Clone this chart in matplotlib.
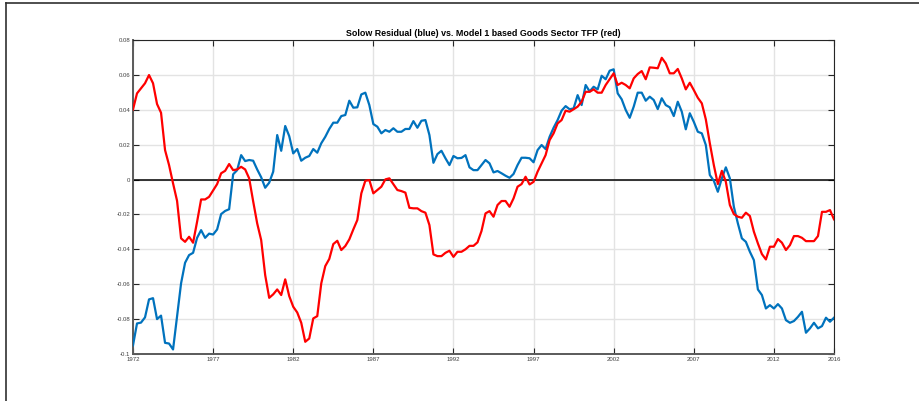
import numpy as np
import matplotlib
matplotlib.use("Agg")
import matplotlib.pyplot as plt
from matplotlib.lines import Line2D

# quarterly, 1972Q1 .. 2015Q4
start_year = 1972
solow_residual = [
    -0.0950, -0.0825, -0.0820, -0.0790, -0.0687, -0.0680, -0.0800, -0.0780,
    -0.0936, -0.0940, -0.0974, -0.0787, -0.0595, -0.0477, -0.0433, -0.0420,
    -0.0334, -0.0290, -0.0334, -0.0310, -0.0315, -0.0286, -0.0198, -0.0180,
    -0.0170, 0.0030, 0.0054, 0.0140, 0.0106, 0.0112, 0.0108, 0.0058,
    0.0013, -0.0047, -0.0018, 0.0045, 0.0255, 0.0165, 0.0307, 0.0249,
    0.0150, 0.0175, 0.0108, 0.0125, 0.0135, 0.0175, 0.0154, 0.0208,
    0.0245, 0.0290, 0.0326, 0.0326, 0.0364, 0.0370, 0.0452, 0.0412,
    0.0414, 0.0488, 0.0498, 0.0427, 0.0318, 0.0303, 0.0265, 0.0284,
    0.0274, 0.0294, 0.0274, 0.0274, 0.0290, 0.0290, 0.0335, 0.0297,
    0.0337, 0.0341, 0.0255, 0.0096, 0.0146, 0.0165, 0.0122, 0.0083,
    0.0135, 0.0122, 0.0124, 0.0140, 0.0070, 0.0054, 0.0054, 0.0083,
    0.0112, 0.0093, 0.0041, 0.0049, 0.0036, 0.0022, 0.0010, 0.0032,
    0.0083, 0.0125, 0.0125, 0.0122, 0.0099, 0.0169, 0.0198, 0.0175,
    0.0245, 0.0297, 0.0341, 0.0395, 0.0421, 0.0403, 0.0408, 0.0484,
    0.0427, 0.0542, 0.0505, 0.0532, 0.0517, 0.0595, 0.0575, 0.0624,
    0.0632, 0.0494, 0.0460, 0.0399, 0.0354, 0.0418, 0.0498, 0.0498,
    0.0452, 0.0475, 0.0456, 0.0404, 0.0466, 0.0427, 0.0414, 0.0364,
    0.0446, 0.0389, 0.0288, 0.0380, 0.0331, 0.0274, 0.0265, 0.0198,
    0.0026, -0.0007, -0.0070, 0.0007, 0.0070, 0.0007, -0.0156, -0.0251,
    -0.0337, -0.0357, -0.0414, -0.0462, -0.0630, -0.0662, -0.0739, -0.0720,
    -0.0739, -0.0714, -0.0739, -0.0806, -0.0821, -0.0811, -0.0787, -0.0758,
    -0.0878, -0.0853, -0.0821, -0.0853, -0.0840, -0.0792, -0.0815, -0.0792,
]
goods_tfp = [
    0.0402, 0.0494, 0.0523, 0.0552, 0.0599, 0.0552, 0.0433, 0.0383,
    0.0169, 0.0083, -0.0022, -0.0122, -0.0337, -0.0357, -0.0328, -0.0362,
    -0.0242, -0.0114, -0.0114, -0.0099, -0.0063, -0.0026, 0.0036, 0.0050,
    0.0089, 0.0054, 0.0058, 0.0073, 0.0058, 0.0007, -0.0125, -0.0251,
    -0.0347, -0.0548, -0.0678, -0.0658, -0.0630, -0.0662, -0.0572, -0.0668,
    -0.0729, -0.0762, -0.0821, -0.0930, -0.0911, -0.0796, -0.0783, -0.0595,
    -0.0496, -0.0455, -0.0370, -0.0351, -0.0404, -0.0381, -0.0343, -0.0286,
    -0.0232, -0.0079, -0.0007, -0.0003, -0.0079, -0.0060, -0.0041, 0.0001,
    0.0007, -0.0026, -0.0060, -0.0066, -0.0075, -0.0162, -0.0165, -0.0165,
    -0.0181, -0.0190, -0.0261, -0.0429, -0.0439, -0.0439, -0.0420, -0.0408,
    -0.0443, -0.0414, -0.0414, -0.0400, -0.0380, -0.0380, -0.0360, -0.0295,
    -0.0194, -0.0181, -0.0213, -0.0146, -0.0123, -0.0123, -0.0156, -0.0108,
    -0.0041, -0.0026, 0.0016, -0.0028, -0.0013, 0.0045, 0.0093, 0.0140,
    0.0226, 0.0265, 0.0322, 0.0341, 0.0395, 0.0389, 0.0403, 0.0418,
    0.0446, 0.0503, 0.0503, 0.0517, 0.0498, 0.0498, 0.0542, 0.0575,
    0.0609, 0.0542, 0.0555, 0.0542, 0.0523, 0.0580, 0.0605, 0.0622,
    0.0575, 0.0643, 0.0641, 0.0638, 0.0698, 0.0666, 0.0609, 0.0609,
    0.0634, 0.0580, 0.0517, 0.0555, 0.0513, 0.0469, 0.0437, 0.0345,
    0.0208, 0.0083, -0.0026, 0.0050, -0.0013, -0.0146, -0.0198, -0.0213,
    -0.0219, -0.0190, -0.0209, -0.0299, -0.0366, -0.0427, -0.0458, -0.0385,
    -0.0385, -0.0341, -0.0362, -0.0404, -0.0376, -0.0324, -0.0324, -0.0334,
    -0.0353, -0.0353, -0.0353, -0.0324, -0.0185, -0.0185, -0.0175, -0.0228,
]
year_ticks = [1972, 1977, 1982, 1987, 1992, 1997, 2002, 2007, 2012, 2015.75]
year_labels = ["1972", "1977", "1982", "1987", "1992", "1997", "2002", "2007", "2012", "2016"]
y_ticks = [-0.1, -0.08, -0.06, -0.04, -0.02, 0, 0.02, 0.04, 0.06, 0.08]
y_labels = ["-0.1", "-0.08", "-0.06", "-0.04", "-0.02", "0", "0.02", "0.04", "0.06", "0.08"]

plt.rcParams['font.family'] = ['Liberation Sans', 'DejaVu Sans']

t = start_year + np.arange(len(solow_residual)) / 4.0

fig = plt.figure(figsize=(9.19, 4.01), dpi=100)
ax = fig.add_axes([133/919, 1 - 354/401, 701/919, 314/401])

ax.grid(True, color='#e3e3e3', linewidth=1.0)
ax.set_axisbelow(True)
ax.axhline(0, color='black', linewidth=1.1, zorder=2)
ax.plot(t, solow_residual, color='#0072BD', linewidth=1.6, zorder=3)
ax.plot(t, goods_tfp, color='#FF0000', linewidth=1.6, zorder=3)

ax.set_xlim(start_year, 2015.75)
ax.set_ylim(-0.1, 0.08)
ax.set_xticks(year_ticks)
ax.set_xticklabels(year_labels)
ax.set_yticks(y_ticks)
ax.set_yticklabels(y_labels)
ax.tick_params(direction='in', length=4, width=0.8, color='#262626',
               labelsize=4.3, labelcolor='#404040', top=True, right=True, pad=2)
for s in ax.spines.values():
    s.set_color('#262626')
    s.set_linewidth(0.8)
ax.spines['left'].set_color('#5a5a5a')
ax.spines['left'].set_linewidth(1.4)
ax.spines['bottom'].set_color('#5a5a5a')
ax.spines['bottom'].set_linewidth(1.4)

ax.set_title("Solow Residual (blue) vs. Model 1 based Goods Sector TFP (red)",
             fontsize=6.4, fontweight='bold', pad=3)

# window frame
fig.add_artist(Line2D([6/919, 1], [1 - 2.5/401, 1 - 2.5/401], color='#303030', linewidth=1.2))
fig.add_artist(Line2D([6/919, 6/919], [0, 1 - 2.5/401], color='#303030', linewidth=1.2))

fig.savefig("out.png", dpi=100)
